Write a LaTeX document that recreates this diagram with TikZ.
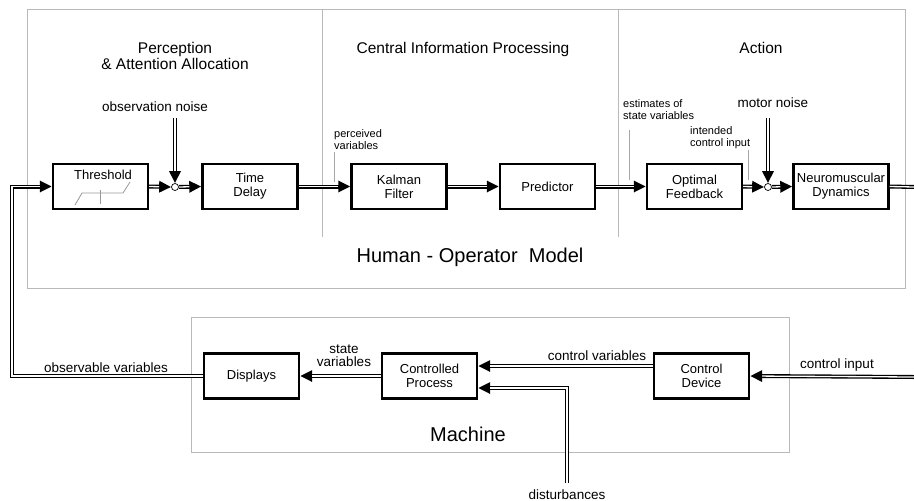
\documentclass[tikz,border=0pt]{standalone}
\usepackage{fontspec}
\setmainfont{Liberation Sans}
\usetikzlibrary{arrows.meta}
\begin{document}
\begin{tikzpicture}[x=1pt,y=-1pt,
  block/.style={draw,line width=2.4pt,minimum width=95pt,minimum height=45pt,
    align=center,inner sep=1pt,font=\fontsize{13pt}{14pt}\selectfont},
  blocktext/.style={inner sep=0pt,font=\fontsize{13pt}{14pt}\selectfont},
  junction/.style={circle,draw,fill=white,line width=0.7pt,minimum size=7pt,inner sep=0pt},
  % double line: black body with arrow tip, white core stopping at the tip base
  signal/.style={draw,black,line width=4pt,line join=miter,
    -{Triangle[length=12pt,width=11pt]},
    postaction={draw=white,line width=1.3pt,-,shorten >=12pt}},
  plainsignal/.style={draw,line width=1.35pt,double=white,double distance=1.3pt,line join=miter},
  frame/.style={draw=gray!55,line width=0.8pt},
  tick/.style={draw=gray!70,line width=0.7pt},
  title/.style={align=center,font=\fontsize{15.5pt}{16pt}\selectfont},
  biglabel/.style={font=\fontsize{20pt}{22pt}\selectfont},
  lbl/.style={align=center,font=\fontsize{13.5pt}{13pt}\selectfont},
  smalllbl/.style={align=left,anchor=west,inner sep=0pt,font=\fontsize{11pt}{12pt}\selectfont}]

\useasboundingbox (0,0) rectangle (914,501);

% frames of the two subsystems
\draw[frame] (27,9) rectangle (905,288);
\draw[frame] (322,9) -- (322,237);
\draw[frame] (618,9) -- (618,237);
\draw[frame] (191,317) rectangle (789,452);

% section titles
\node[title] at (175,56) {Perception\\\& Attention Allocation};
\node[title] at (463,49) {Central Information Processing};
\node[title] at (761,48) {Action};
\node[biglabel] at (470,257) {Human - Operator\ \ Model};
\node[biglabel] at (468,434) {Machine};

% human operator blocks
\node[block] (thr) at (100.5,186.5) {};
\node[blocktext] at (103,175) {Threshold};
\node[block] (td) at (250,186.5) {Time\\Delay};
\node[block] (kf) at (399,186.5) {Kalman\\Filter};
\node[block] (pred) at (547.5,186.5) {Predictor};
\node[block] (ofb) at (694.5,186.5) {Optimal\\Feedback};
\node[block] (nmd) at (841,186.5) {Neuromuscular\\Dynamics};
\node[junction] (sum1) at (175,187) {};
\node[junction] (sum2) at (768,187) {};

% threshold characteristic
\draw[gray!80,line width=0.8pt] (75,205) -- (82,193) -- (123,193) -- (130,182);
\draw[gray!80,line width=0.8pt] (100,190) -- (100,204);

% machine blocks
\node[block] (disp) at (251.5,376) {Displays};
\node[block] (cp) at (429.5,376) {Controlled\\Process};
\node[block] (cd) at (701.5,376) {Control\\Device};

% free ends
\coordinate (obsn) at (175,118);
\coordinate (motn) at (768,118);
\coordinate (out) at (914,187);
\coordinate (cin) at (914,377);
\coordinate (dist) at (567,483);
\coordinate (lc) at (12,376);

% forward path of the operator
\path[signal] (thr.east) -- (sum1.west);
\path[signal] (obsn) -- (sum1.north);
\path[signal] (sum1.east) -- (td.west);
\path[signal] (td.east) -- (kf.west);
\path[signal] (kf.east) -- (pred.west);
\path[signal] (pred.east) -- (ofb.west);
\path[signal] (ofb.east) -- (sum2.west);
\path[signal] (motn) -- (sum2.north);
\path[signal] (sum2.east) -- (nmd.west);
\path[plainsignal] (nmd.east) -- (out);

% machine loop
\path[signal] (cin) -- (cd.east);
\path[signal] ([yshift=10pt]cd.west) -- ([yshift=10pt]cp.east);
\path[signal] (dist) |- ([yshift=-12pt]cp.east);
\path[signal] (cp.west) -- (disp.east);
\path[signal] (disp.west) -- (lc) |- (thr.west);

% signal labels
\node[lbl] at (155,107) {observation noise};
\node[lbl] at (773,103) {motor noise};
\node[smalllbl] at (334,140) {perceived\\variables};
\draw[tick] (334,152) -- (334,182);
\node[smalllbl] at (623,110) {estimates of\\state variables};
\draw[tick] (629,130) -- (629,180);
\node[smalllbl] at (690,138) {intended\\control input};
\draw[tick] (748,150) -- (748,180);

\node[lbl] at (106,368) {observable variables};
\node[lbl] at (344,356) {state\\variables};
\node[lbl] at (597,356) {control variables};
\node[lbl] at (837,365) {control input};
\node[lbl] at (567,495) {disturbances};
\end{tikzpicture}
\end{document}
